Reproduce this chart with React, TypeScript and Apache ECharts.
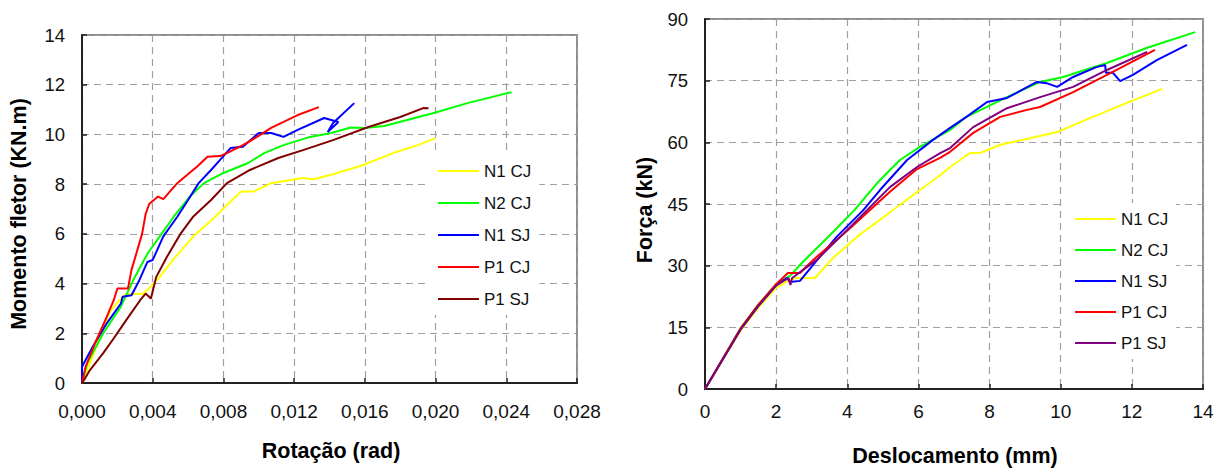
import React, { useEffect, useRef } from "react";
import * as echarts from "echarts";

// ---------- Left chart: Momento fletor x Rotação ----------
const rotTicks = [0, 0.004, 0.008, 0.012, 0.016, 0.02, 0.024, 0.028];
const momTicks = [0, 2, 4, 6, 8, 10, 12, 14];

const rotN1CJ: number[][] = [
  [0, 0], [0.0005, 0.9], [0.001, 1.8], [0.0016, 2.9], [0.0023, 3.47], [0.0025, 3.58],
  [0.0034, 3.58], [0.0037, 3.74], [0.0044, 4.27], [0.0052, 5.0], [0.0063, 5.9],
  [0.0074, 6.6], [0.0082, 7.16], [0.009, 7.7], [0.0097, 7.7], [0.0107, 8.04],
  [0.0125, 8.25], [0.0131, 8.2], [0.0142, 8.4], [0.0159, 8.77], [0.0176, 9.25],
  [0.019, 9.57], [0.02, 9.85],
];
const rotN2CJ: number[][] = [
  [0, 0], [0.0003, 0.8], [0.0012, 2.0], [0.0022, 3.07], [0.0029, 4.14], [0.0037, 5.2],
  [0.0044, 5.9], [0.0052, 6.7], [0.0061, 7.5], [0.0069, 8.04], [0.008, 8.45],
  [0.0094, 8.85], [0.0103, 9.25], [0.0114, 9.57], [0.0129, 9.9], [0.0141, 10.06],
  [0.0152, 10.28], [0.016, 10.26], [0.0171, 10.34], [0.0199, 10.86], [0.0218, 11.26],
  [0.0243, 11.7],
];
const rotN1SJ: number[][] = [
  [0, 0], [0, 0.65], [0.0006, 1.45], [0.0014, 2.4], [0.0022, 3.2], [0.0023, 3.47],
  [0.0028, 3.53], [0.0032, 4.07], [0.0037, 4.87], [0.004, 4.95], [0.0046, 5.9],
  [0.0054, 6.7], [0.006, 7.36], [0.0066, 8.04], [0.0073, 8.57], [0.0079, 9.05],
  [0.0084, 9.45], [0.0091, 9.5], [0.01, 10.06], [0.0107, 10.06], [0.0114, 9.9],
  [0.0122, 10.18], [0.0137, 10.66], [0.0145, 10.5], [0.0139, 10.1], [0.0142, 10.46],
  [0.0154, 11.26],
];
const rotP1CJ: number[][] = [
  [0, 0], [0.0002, 0.65], [0.0008, 1.7], [0.0014, 2.66], [0.0018, 3.34], [0.002, 3.8],
  [0.0026, 3.8], [0.0028, 4.55], [0.0034, 6.0], [0.0036, 6.8], [0.0038, 7.2],
  [0.0043, 7.5], [0.0046, 7.4], [0.0054, 8.05], [0.0065, 8.7], [0.0071, 9.1],
  [0.0078, 9.13], [0.0082, 9.25], [0.0091, 9.57], [0.0099, 9.9], [0.0107, 10.26],
  [0.0122, 10.78], [0.0134, 11.1],
];
const rotP1SJ: number[][] = [
  [0, 0], [0.0001, 0.1], [0.00045, 0.52], [0.0012, 1.2], [0.0018, 1.8], [0.0025, 2.53],
  [0.0033, 3.34], [0.0036, 3.6], [0.0039, 3.4], [0.0042, 4.27], [0.0048, 5.07],
  [0.0056, 6.03], [0.0063, 6.7], [0.0073, 7.36], [0.0082, 8.04], [0.0095, 8.57],
  [0.0111, 9.05], [0.0125, 9.37], [0.0142, 9.77], [0.0162, 10.3], [0.018, 10.7],
  [0.0193, 11.06], [0.0196, 11.05],
];

// ---------- Right chart: Força x Deslocamento ----------
const desTicks = [0, 2, 4, 6, 8, 10, 12, 14];
const forTicks = [0, 15, 30, 45, 60, 75, 90];

const desN1CJ: number[][] = [
  [0, 0], [1, 14.2], [1.5, 19.8], [2, 24.6], [2.4, 26.6], [2.58, 27], [3.09, 27],
  [3.6, 31.9], [4.27, 37], [5.2, 43], [6.04, 48.4], [6.61, 52], [6.89, 54],
  [7.45, 57.4], [7.73, 57.4], [8.3, 59.4], [9.14, 61], [9.9, 62.5], [10.82, 65.9],
  [11.86, 69.6], [12.85, 73],
];
const desN2CJ: number[][] = [
  [0, 0], [1, 14.8], [1.5, 20.5], [2, 25.5], [2.39, 27.5], [2.75, 30.9], [3.51, 37.4],
  [4.2, 43.5], [4.84, 50.1], [5.48, 55.7], [6.04, 58.9], [6.89, 63], [7.35, 66.2],
  [8.49, 71], [9.42, 74.7], [10.07, 75.9], [11.3, 79.3], [12.43, 83], [13.78, 86.8],
];
const desN1SJ: number[][] = [
  [0, 0], [1, 14.5], [1.5, 20.2], [2, 25.2], [2.3, 27], [2.4, 26], [2.67, 26.3],
  [3.04, 30.2], [3.7, 37], [4.45, 43.5], [4.92, 48.4], [5.68, 55.7], [6.41, 60.6],
  [6.89, 63.5], [7.35, 66.2], [7.93, 69.8], [8.49, 70.8], [9.33, 74.7], [9.6, 74.4],
  [9.9, 73.5], [10.35, 75.9], [11.0, 78.3], [11.25, 78.8], [11.27, 76.9], [11.47, 76.9],
  [11.67, 74.9], [12.03, 76.4], [12.7, 80], [13.55, 83.7],
];
const desP1CJ: number[][] = [
  [0, 0], [1, 14.7], [1.5, 20.5], [2, 25.5], [2.33, 28.2], [2.67, 28.2], [3.04, 31.4],
  [4.0, 38.5], [5.2, 48.0], [5.96, 53.5], [6.61, 56.2], [6.89, 57.7], [7.54, 62.3],
  [8.3, 66.2], [9.05, 67.9], [9.42, 68.6], [10.35, 72.2], [11.3, 76.4], [12.65, 82.5],
];
const desP1SJ: number[][] = [
  [0, 0], [1, 14.5], [1.5, 20.2], [2, 25.2], [2.35, 27], [2.4, 25.3], [2.45, 27],
  [3.14, 31.4], [4.0, 38.7], [5.2, 49.1], [5.96, 54], [6.61, 57.4], [6.89, 58.6],
  [7.54, 63.7], [8.49, 68.3], [9.42, 71], [10.35, 73.5], [11.3, 77.6], [12.43, 82],
];

const seriesNames = ["N1 CJ", "N2 CJ", "N1 SJ", "P1 CJ", "P1 SJ"];
const leftColors = ["#ffff00", "#00ff00", "#0000ff", "#ff0000", "#800000"];
const rightColors = ["#ffff00", "#00ff00", "#0000ff", "#ff0000", "#800080"];

const FONT = "'Liberation Sans', Arial, sans-serif";

function makeOption(cfg: {
  grid: any;
  xTicks: number[];
  yTicks: number[];
  xFmt: (v: number) => string;
  xMargin: number;
  data: number[][][];
  colors: string[];
  legendPos: { left: number; top: number };
  legendGap: number;
  xTitle: { text: string; x: number; y: number };
  yTitle: { text: string; x: number; y: number };
}) {
  const axisCommon = {
    axisLine: { show: true, onZero: false, lineStyle: { color: "#222", width: 2 } },
    axisTick: { show: true, inside: true, length: 5, lineStyle: { color: "#222", width: 1.5 } },
    splitLine: { show: true, lineStyle: { color: "#a0a0a0", width: 1.2, type: [7, 5] } },
  };
  const xI = cfg.xTicks[1] - cfg.xTicks[0];
  const yI = cfg.yTicks[1] - cfg.yTicks[0];
  return {
    animation: false,
    backgroundColor: "#fff",
    grid: { ...cfg.grid, show: true, borderColor: "#8c8c8c", borderWidth: 2, backgroundColor: "transparent" },
    xAxis: {
      type: "value",
      min: cfg.xTicks[0],
      max: cfg.xTicks[cfg.xTicks.length - 1],
      interval: xI,
      ...axisCommon,
      axisLabel: {
        margin: cfg.xMargin,
        color: "#111",
        fontSize: 19,
        fontFamily: FONT,
        formatter: cfg.xFmt,
        showMinLabel: true,
        showMaxLabel: true,
      },
    },
    yAxis: {
      type: "value",
      min: cfg.yTicks[0],
      max: cfg.yTicks[cfg.yTicks.length - 1],
      interval: yI,
      ...axisCommon,
      axisLabel: { margin: 17, color: "#111", fontSize: 18.5, fontFamily: FONT },
    },
    legend: {
      show: true,
      orient: "vertical",
      left: cfg.legendPos.left,
      top: cfg.legendPos.top,
      backgroundColor: "#fff",
      padding: [6, 8, 6, 10],
      icon: "rect",
      itemWidth: 41,
      itemHeight: 2,
      itemGap: cfg.legendGap,
      data: seriesNames,
      textStyle: { fontSize: 17, fontFamily: FONT, color: "#111", lineHeight: 20 },
    },
    graphic: [
      {
        type: "text",
        x: cfg.xTitle.x,
        y: cfg.xTitle.y,
        style: {
          text: cfg.xTitle.text,
          fontSize: 21.5,
          fontWeight: "bold",
          fontFamily: FONT,
          fill: "#000",
          align: "center",
          verticalAlign: "middle",
        },
      },
      {
        type: "text",
        x: cfg.yTitle.x,
        y: cfg.yTitle.y,
        rotation: Math.PI / 2,
        style: {
          text: cfg.yTitle.text,
          fontSize: 21.5,
          fontWeight: "bold",
          fontFamily: FONT,
          fill: "#000",
          align: "center",
          verticalAlign: "middle",
        },
      },
    ],
    series: cfg.data.map((d, i) => ({
      name: seriesNames[i],
      type: "line",
      data: d,
      showSymbol: false,
      symbol: "none",
      color: cfg.colors[i],
      lineStyle: { color: cfg.colors[i], width: 2 },
      z: 3,
    })),
  };
}

function Chart({ option, style }: { option: any; style: React.CSSProperties }) {
  const ref = useRef<HTMLDivElement>(null);
  useEffect(() => {
    if (!ref.current) return;
    const chart = echarts.init(ref.current, undefined, { renderer: "svg" });
    chart.setOption(option);
    return () => chart.dispose();
  }, [option]);
  return <div ref={ref} style={style} />;
}

const leftOption = makeOption({
  grid: { left: 82, top: 35, width: 495, height: 348 },
  xTicks: rotTicks,
  yTicks: momTicks,
  xFmt: (v: number) => v.toFixed(3).replace(".", ","),
  xMargin: 19,
  data: [rotN1CJ, rotN2CJ, rotN1SJ, rotP1CJ, rotP1SJ],
  colors: leftColors,
  legendPos: { left: 428, top: 155 },
  legendGap: 12,
  xTitle: { text: "Rotação (rad)", x: 331, y: 451 },
  yTitle: { text: "Momento fletor (KN.m)", x: 19, y: 214 },
});

const rightOption = makeOption({
  grid: { left: 95, top: 19, width: 498, height: 370 },
  xTicks: desTicks,
  yTicks: forTicks,
  xFmt: (v: number) => String(v),
  xMargin: 13,
  data: [desN1CJ, desN2CJ, desN1SJ, desP1CJ, desP1SJ],
  colors: rightColors,
  legendPos: { left: 455, top: 203 },
  legendGap: 11,
  xTitle: { text: "Deslocamento (mm)", x: 345, y: 456 },
  yTitle: { text: "Força (kN)", x: 35, y: 210 },
});

export default function App() {
  return (
    <div style={{ position: "absolute", left: 0, top: 0, width: 1220, height: 468, background: "#fff" }}>
      <Chart option={leftOption} style={{ position: "absolute", left: 0, top: 0, width: 610, height: 468 }} />
      <Chart option={rightOption} style={{ position: "absolute", left: 610, top: 0, width: 610, height: 468 }} />
    </div>
  );
}
